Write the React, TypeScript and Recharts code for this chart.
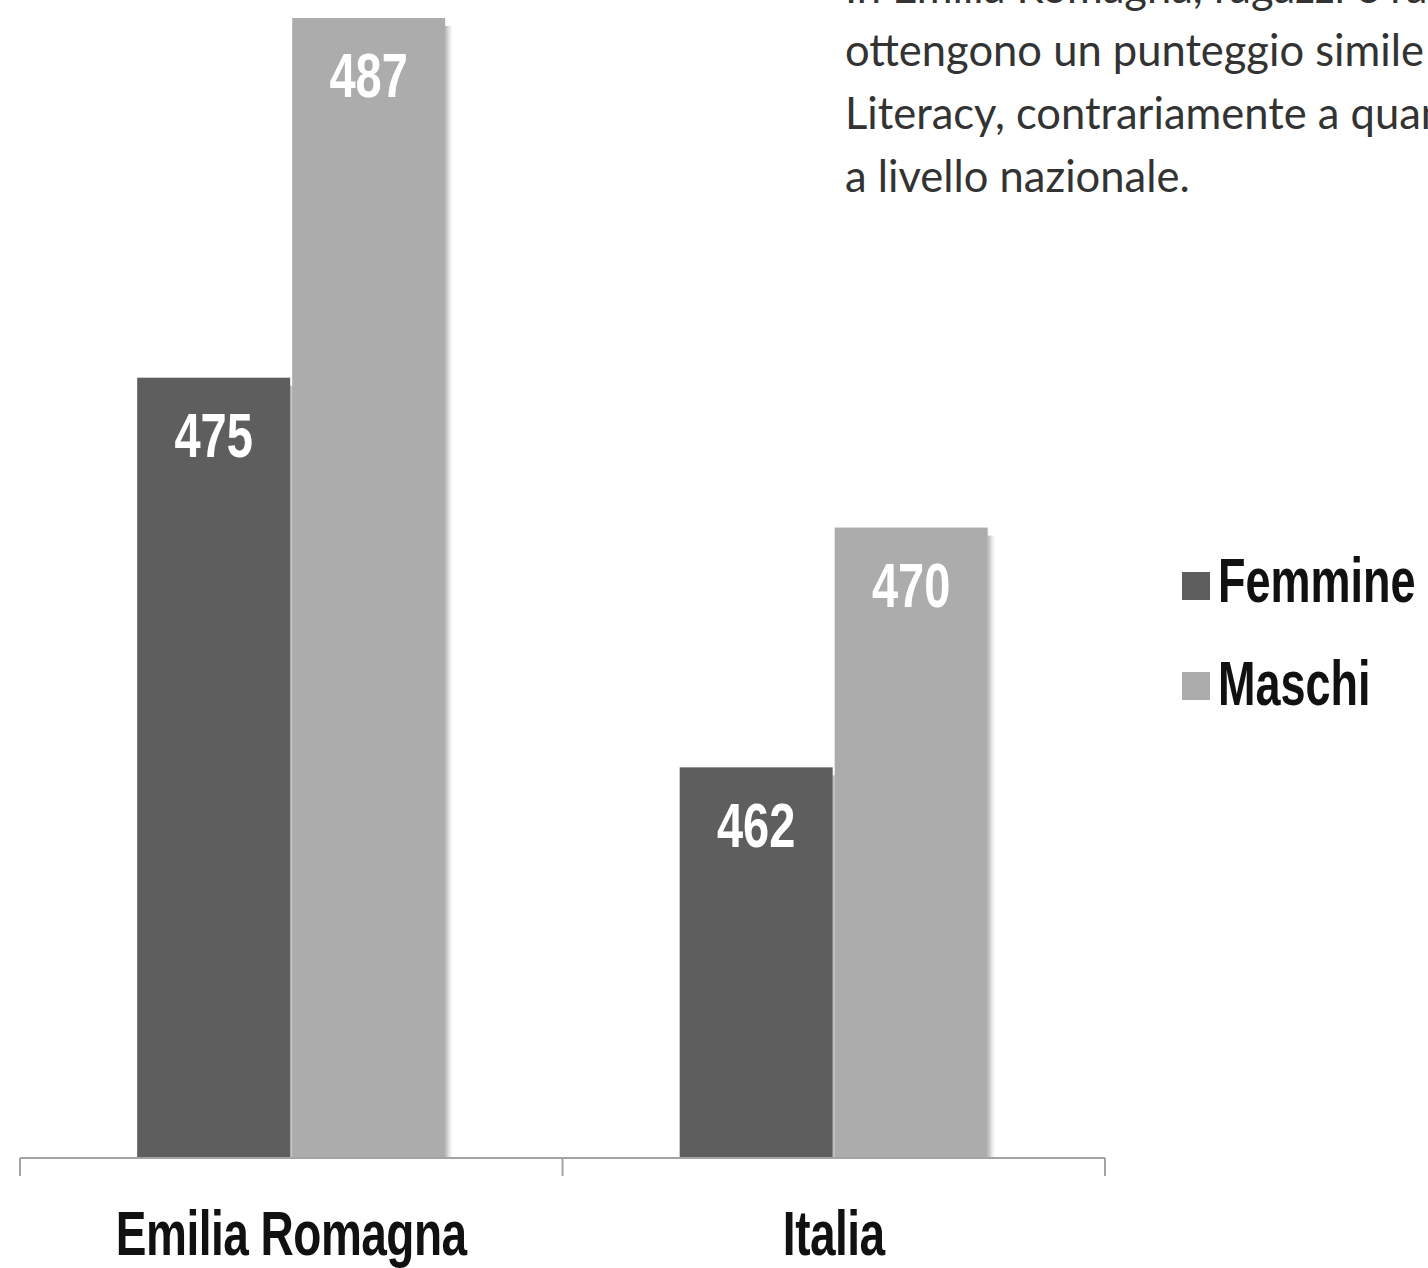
import { BarChart, Bar, XAxis, YAxis, Legend, LabelList } from 'recharts';

const categories = ['Emilia Romagna', 'Italia'];
const femmine = [475, 462];
const maschi = [487, 470];
const seriesNames = ['Femmine', 'Maschi'];
const seriesColors = ['#5e5e5e', '#acacac'];
// category boundaries as fractions of the axis span
const edgeTicks = [0, 0.5, 1];
const noteLines = [
  'In Emilia Romagna, ragazzi e ragazze',
  'ottengono un punteggio simile in',
  'Literacy, contrariamente a quanto avviene',
  'a livello nazionale.',
];

const narrow = "'Liberation Sans Narrow', 'Arial Narrow', 'Liberation Sans', Arial, sans-serif";

const chartData = categories.map((name, i) => ({
  name,
  [seriesNames[0]]: femmine[i],
  [seriesNames[1]]: maschi[i],
}));

// bar with a soft shadow strip on its right side
const ShadowBar = (props: any) => {
  const { x, y, width, height, fill } = props;
  if (!height || height <= 0) return null;
  return (
    <g>
      <rect x={x + width} y={y + 8} width={7} height={height - 8} fill="url(#sideShadow)" />
      <rect x={x} y={y} width={width} height={height} fill={fill} />
    </g>
  );
};

const ValueLabel = (props: any) => {
  const { x, y, width, value } = props;
  const cx = x + width / 2;
  const cy = y + 57;
  return (
    <text
      transform={`translate(${cx},${cy}) scale(1,1.35)`}
      textAnchor="middle"
      dominantBaseline="central"
      fill="#ffffff"
      fontFamily={narrow}
      fontWeight="bold"
      fontSize={47}
    >
      {value}
    </text>
  );
};

const CategoryTick = (props: any) => {
  const { x, payload } = props;
  return (
    <text
      transform={`translate(${x},1255) scale(1,1.36)`}
      textAnchor="middle"
      fill="#111111"
      fontFamily={narrow}
      fontWeight="bold"
      fontSize={46}
      letterSpacing={-0.5}
    >
      {payload.value}
    </text>
  );
};

// tick mark at a category boundary, hanging below the axis line
const EdgeTick = (props: any) => {
  const { x, y } = props;
  return <line x1={x} x2={x} y1={y - 20} y2={y - 2} stroke="#a3a3a3" strokeWidth={2} />;
};

const LegendBox = ({ payload }: any) => {
  return (
    <svg width={268} height={190}>
      {(payload || []).map((entry: any, i: number) => (
        <g key={entry.value}>
          <rect x={22} y={32 + i * 100} width={28} height={28} fill={entry.color} />
          <text
            transform={`translate(58,${62 + i * 103}) scale(1,1.4)`}
            fill="#111111"
            fontFamily={narrow}
            fontWeight="bold"
            fontSize={45}
          >
            {entry.value}
          </text>
        </g>
      ))}
    </svg>
  );
};

export default function App() {
  return (
    <div
      style={{
        position: 'absolute',
        left: 0,
        top: 0,
        width: 1428,
        height: 1268,
        overflow: 'hidden',
        background: '#ffffff',
      }}
    >
      <svg
        width={1428}
        height={1268}
        style={{ position: 'absolute', left: 0, top: 0, pointerEvents: 'none' }}
      >
        {noteLines.map((line, i) => (
          <text
            key={i}
            x={845}
            y={3 + i * 63}
            fill="#333333"
            fontFamily="Lato, 'Open Sans', sans-serif"
            fontSize={43.5}
          >
            {line}
          </text>
        ))}
      </svg>
      <BarChart
        width={1428}
        height={1268}
        data={chartData}
        margin={{ top: 18, right: 323, left: 20, bottom: 109 }}
        barCategoryGap="21.6%"
        barGap={2}
      >
        <defs>
          <linearGradient id="sideShadow" x1="0" y1="0" x2="1" y2="0">
            <stop offset="0%" stopColor="#8a8a8a" stopOpacity={0.7} />
            <stop offset="100%" stopColor="#cfcfcf" stopOpacity={0.1} />
          </linearGradient>
        </defs>
        <XAxis
          xAxisId="edge"
          type="number"
          domain={[0, 1]}
          ticks={edgeTicks}
          interval={0}
          minTickGap={0}
          allowDataOverflow
          height={1}
          tickSize={18}
          tickMargin={2}
          tick={<EdgeTick />}
          axisLine={{ stroke: '#a3a3a3', strokeWidth: 2 }}
          tickLine={false}
        />
        <XAxis
          dataKey="name"
          height={1}
          axisLine={false}
          tickLine={false}
          interval={0}
          tick={<CategoryTick />}
        />
        <YAxis hide domain={[449, 487]} allowDataOverflow />
        <Legend
          layout="vertical"
          align="center"
          verticalAlign="middle"
          wrapperStyle={{ left: 1160, top: 540, width: 268, height: 190 }}
          content={<LegendBox />}
        />
        {seriesNames.map((s, i) => (
          <Bar
            key={s}
            dataKey={s}
            fill={seriesColors[i]}
            shape={<ShadowBar />}
            isAnimationActive={false}
          >
            <LabelList dataKey={s} content={<ValueLabel />} />
          </Bar>
        ))}
      </BarChart>
    </div>
  );
}
